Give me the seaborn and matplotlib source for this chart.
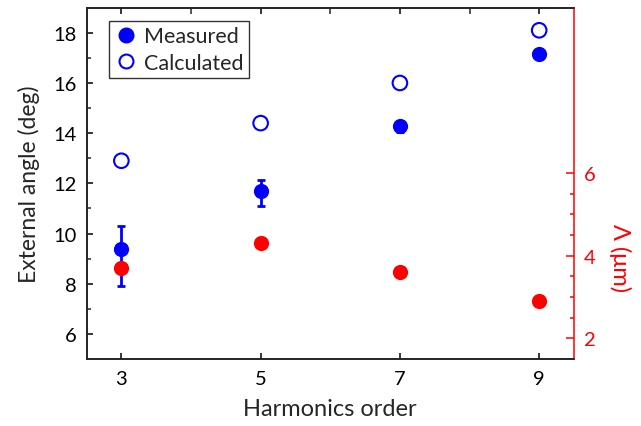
import numpy as np
import pandas as pd
import matplotlib
matplotlib.use("Agg")
import matplotlib.pyplot as plt
import seaborn as sns
from matplotlib.ticker import FixedLocator
from matplotlib.lines import Line2D

# ---- data ----
harmonics = [3, 5, 7, 9]
measured = [9.4, 11.7, 14.3, 17.15]
measured_err_low = [1.5, 0.6, 0.25, 0.15]
measured_err_high = [0.9, 0.45, 0.2, 0.15]
calculated = [12.9, 14.4, 16.0, 18.1]
period_um = [3.70, 4.30, 3.60, 2.90]

df = pd.DataFrame({"harm": harmonics, "meas": measured,
                   "err_lo": measured_err_low, "err_hi": measured_err_high,
                   "calc": calculated, "lam": period_um})

sns.set_theme(style="ticks")
plt.rcParams['font.family'] = ['Lato', 'DejaVu Sans']
plt.rcParams['axes.linewidth'] = 1.1

BLUE = "#0000FF"
RED = "#FF0000"

fig = plt.figure(figsize=(6.41, 4.27), dpi=100)
ax = fig.add_axes([0.135, 0.157, 0.7605, 0.8226])

ax.errorbar(df["harm"], df["meas"], yerr=[df["err_lo"], df["err_hi"]], fmt="none",
            ecolor=BLUE, elinewidth=2.0, capsize=3.2, capthick=2.0, zorder=2)
sns.scatterplot(data=df, x="harm", y="meas", ax=ax, color=BLUE, s=120,
                edgecolor=BLUE, linewidth=0, zorder=3)
sns.scatterplot(data=df, x="harm", y="calc", ax=ax, facecolor="none", s=110,
                edgecolor=BLUE, linewidth=1.5, zorder=3)

ax.set_xlim(2.5, 9.5)
ax.set_ylim(5, 19)
ax.set_xticks(harmonics)
ax.xaxis.set_minor_locator(FixedLocator([4, 6, 8]))
ax.yaxis.set_major_locator(FixedLocator([6, 8, 10, 12, 14, 16, 18]))
ax.yaxis.set_minor_locator(FixedLocator([7, 9, 11, 13, 15, 17]))
ax.tick_params(axis="both", which="major", direction="in", length=4.5, width=1.1,
               labelsize=14.5, colors="black", pad=7)
ax.tick_params(axis="x", which="major", pad=8)
ax.tick_params(axis="x", which="both", top=True)
ax.tick_params(axis="x", which="minor", bottom=False, top=True, direction="in",
               length=4.5, width=1.1)
ax.tick_params(axis="y", which="minor", direction="in", length=2.6, width=1.1)
ax.set_xlabel("Harmonics order", fontsize=17, labelpad=8)
ax.set_ylabel("External angle (deg)", fontsize=16.5, labelpad=10)
for s in ax.spines.values():
    s.set_color("black")

# right axis
ax2 = ax.twinx()
sns.scatterplot(data=df, x="harm", y="lam", ax=ax2, color=RED, s=120,
                edgecolor=RED, linewidth=0, zorder=3)
ax2.set_ylim(1.5, 10)
ax2.yaxis.set_major_locator(FixedLocator([2, 4, 6]))
ax2.yaxis.set_minor_locator(FixedLocator([2.5, 3, 3.5, 4.5, 5, 5.5]))
ax2.tick_params(axis="y", which="major", direction="in", length=5.5, width=1.1,
                labelsize=14.5, colors=RED, pad=7)
ax2.tick_params(axis="y", which="minor", direction="in", length=3.2, width=1.1,
                colors=RED)
ax2.spines["right"].set_color(RED)
ax2.spines["right"].set_linewidth(1.1)
ax.spines["right"].set_visible(False)
ax2.set_xlabel("")
ax2.set_ylabel("Λ (μm)", fontsize=17, color=RED, rotation=270)
ax2.yaxis.set_label_coords(1.117, 0.29)

# legend
handles = [
    Line2D([], [], linestyle="none", marker="o", markersize=10.5,
           markerfacecolor=BLUE, markeredgecolor=BLUE),
    Line2D([], [], linestyle="none", marker="o", markersize=10,
           markerfacecolor="none", markeredgecolor=BLUE, markeredgewidth=1.5),
]
leg = ax.legend(handles, ["Measured", "Calculated"], loc="upper left",
                bbox_to_anchor=(0.047, 0.962), fontsize=15.5, frameon=True,
                fancybox=False, edgecolor="black", handletextpad=0.35,
                handlelength=1.0, borderpad=0.25, labelspacing=0.3,
                borderaxespad=0)
leg.get_frame().set_linewidth(1.0)

fig.savefig("out.png", dpi=100)
